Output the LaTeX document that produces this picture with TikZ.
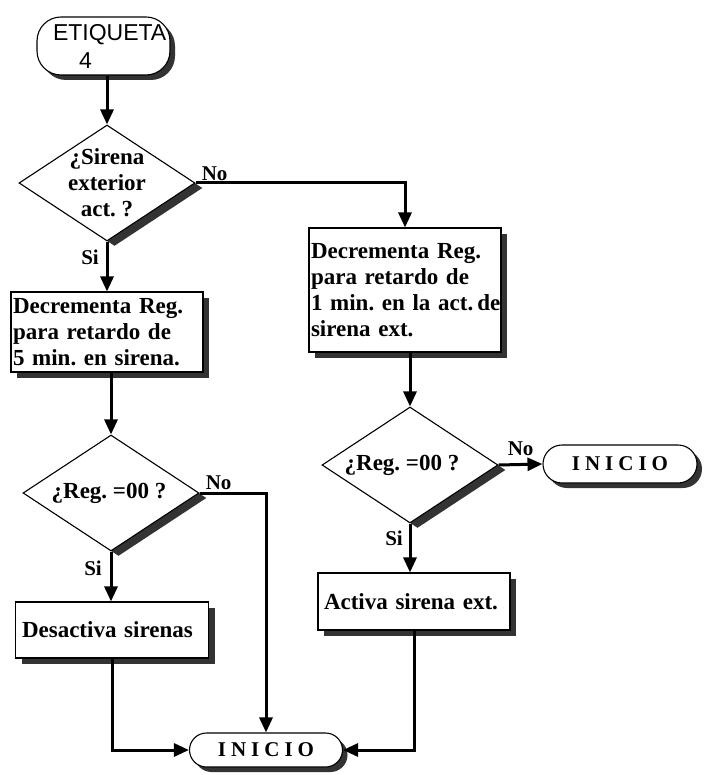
\documentclass[tikz,border=0pt]{standalone}
\usepackage{fontspec}
\setmainfont{Liberation Serif}
\newfontfamily\arialfont{Liberation Sans}
\usetikzlibrary{shapes.geometric,arrows.meta,shadows}
\newcommand\inicioTxt{I\hspace{5pt}N\hspace{5pt}I\hspace{5pt}C\hspace{5pt}I\hspace{5pt}O}
\frenchspacing
\begin{document}
\begin{tikzpicture}[x=1pt,y=-1pt,
  base/.style={draw=black, line width=1.1pt, fill=white},
  procbox/.style={base, rectangle, text width=188pt, inner xsep=2pt, inner ysep=0pt,
    align=left, font=\fontsize{23}{26}\selectfont\bfseries,
    drop shadow={shadow xshift=6pt,shadow yshift=-6pt,fill=black!80,opacity=1}},
  decision/.style={base, diamond, minimum width=176pt, minimum height=116pt, inner sep=0pt,
    drop shadow={shadow xshift=7.5pt,shadow yshift=-5pt,fill=black!80,opacity=1}},
  dtext/.style={font=\fontsize{23}{26}\selectfont\bfseries, align=center, inner sep=0pt},
  term/.style={base, rectangle, inner sep=0pt,
    drop shadow={shadow xshift=5pt,shadow yshift=-5pt,fill=black!80,opacity=1}},
  flow/.style={line width=3pt, -{Triangle[length=15pt,width=13pt]}},
  lbl/.style={font=\fontsize{21}{23}\selectfont\bfseries, inner sep=0pt}
]
\useasboundingbox[fill=white] (0,0) rectangle (704,775);

% terminals
\node[term, rounded corners=24pt, minimum width=133pt, minimum height=58pt,
  text width=129pt, align=left, font=\fontsize{23}{28}\selectfont\arialfont] (et) at (103.5,46)
  {\hspace*{14pt}ETIQUETA\\\hspace*{40pt}4};
\node[term, rounded corners=17pt, minimum width=153pt, minimum height=34pt,
  font=\fontsize{21}{23}\selectfont\bfseries] (ini1) at (266,750) {\inicioTxt};
\node[term, rounded corners=19pt, minimum width=154pt, minimum height=38pt,
  font=\fontsize{21}{23}\selectfont\bfseries] (ini2) at (620,464) {\inicioTxt};

% decisions
\node[decision, label={[dtext]center:{¿Sirena\\exterior\\act. ?}}] (d1) at (107,183) {};
\node[decision, label={[dtext, xshift=-2pt]center:{¿Reg. =00 ?}}] (d2) at (111,493) {};
\node[decision, label={[dtext, xshift=-8pt]center:{¿Reg. =00 ?}}] (d3) at (410,465) {};

% process boxes
\node[procbox, minimum height=80pt] (b1) at (107,332)
  {Decrementa Reg.\\para retardo de\\5 min. en sirena.};
\node[procbox, minimum height=124pt] (b2) at (405,290)
  {Decrementa Reg.\\para retardo de\\\mbox{1 min. en la act.\hspace{4pt}de}\\sirena ext.};
\node[procbox, minimum height=56pt, text width=180pt, inner xsep=6.5pt] (b3) at (112,630)
  {Desactiva sirenas};
\node[procbox, minimum height=57pt, text width=180pt, inner xsep=6pt] (b4) at (414,601.5)
  {Activa sirena ext.};

% connectors
\draw[flow] (d1.north |- et.south) -- (d1.north);
\draw[flow] (d1.east) -| (b2.north);
\draw[flow] (d1.south) -- (b1.north);
\draw[flow] (b1.south -| d2.north) -- (d2.north);
\draw[flow] (d2.south) -- (d2.south |- b3.north);
\draw[flow] (d2.east) -| (ini1.north);
\draw[flow] (b3.south) |- (ini1.west);
\draw[flow] (b2.south -| d3.north) -- (d3.north);
\draw[flow] (d3.east) -- (ini2.west);
\draw[flow] (d3.south) -- (d3.south |- b4.north);
\draw[flow] (b4.south) |- (ini1.east);

% labels
\node[lbl, anchor=south west] (n1) at ([xshift=6pt,yshift=2pt]d1.east) {No};
\node[lbl, anchor=north east] (s1) at ([xshift=-8pt,yshift=-8pt]d1.south) {Si};
\node[lbl, anchor=south west] (n2) at ([xshift=6pt,yshift=3pt]d2.east) {No};
\node[lbl, anchor=north east] (s2) at ([xshift=-9pt,yshift=-9pt]d2.south) {Si};
\node[lbl, anchor=south west] (n3) at ([xshift=9pt,yshift=9pt]d3.east) {No};
\node[lbl, anchor=north east] (s3) at ([xshift=-7pt,yshift=-7pt]d3.south) {Si};
\end{tikzpicture}
\end{document}
